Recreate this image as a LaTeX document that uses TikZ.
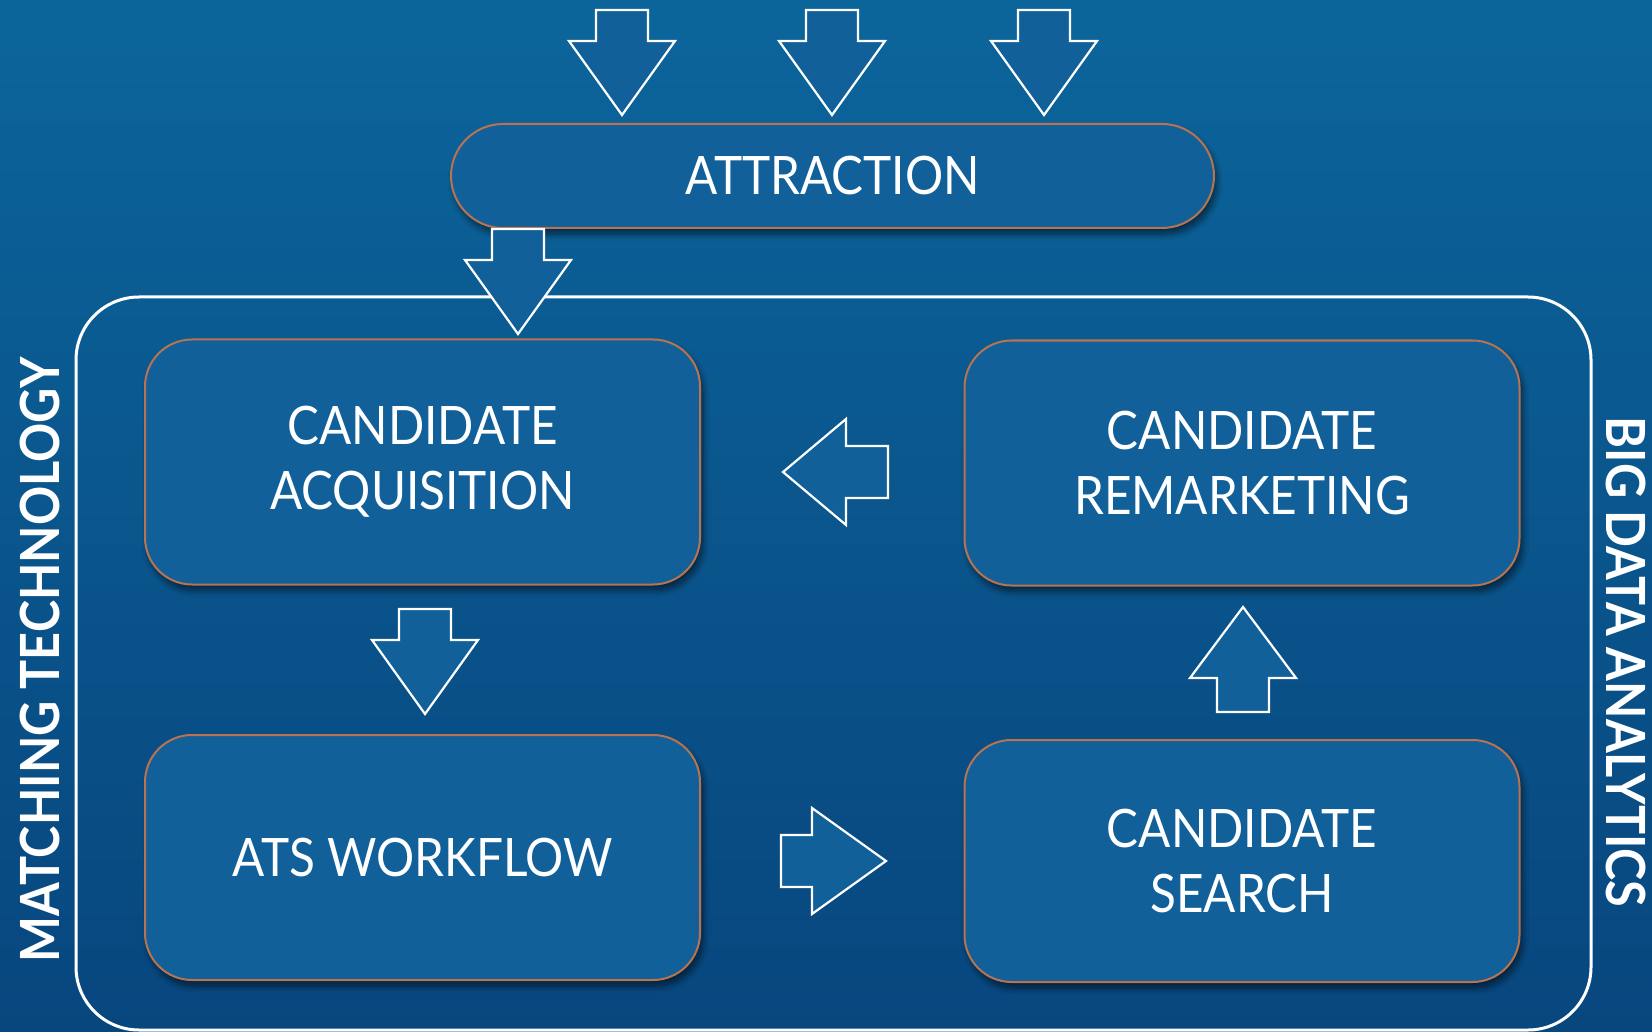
\documentclass[tikz,border=0pt]{standalone}
\usepackage{fontspec}
\setmainfont[FakeStretch=0.9]{Lato}
\usetikzlibrary{shadows,shadows.blur,calc}

\definecolor{bgtop}{HTML}{0B659B}
\definecolor{bgmid}{HTML}{0A4F81}
\definecolor{bgbot}{HTML}{08467E}
\definecolor{boxfill}{HTML}{11609A}
\definecolor{boxedge}{HTML}{B87350}

\tikzset{
  stage/.style={draw=boxedge, line width=2pt, fill=boxfill,
    rounded corners=47pt, minimum width=555pt, minimum height=245pt,
    inner sep=0pt, text=white, align=center,
    font=\fontsize{53}{65}\selectfont,
    blur shadow={shadow xshift=3pt, shadow yshift=-6pt,
      shadow blur radius=6pt, shadow blur steps=10, shadow opacity=55}},
  sidelabel/.style={text=white, font=\fontsize{54}{60}\selectfont\bfseries, inner sep=0pt},
  blockarrow/.style={draw=white, line width=2.2pt, fill=boxfill, line join=miter},
  barrow head/.store in=\barrowhead, barrow head=74,
  barrow/.pic={
    \path[blockarrow] (0,-26) -- (105-\barrowhead,-26) -- (105-\barrowhead,-53)
      -- (105,0) -- (105-\barrowhead,53) -- (105-\barrowhead,26) -- (0,26) -- cycle;
  }
}

\begin{document}
\begin{tikzpicture}[x=1pt,y=-1pt]
  % backdrop
  \shade[top color=bgtop, middle color=bgmid, bottom color=bgbot] (0,0) rectangle (1652,1032);
  \useasboundingbox (0,0) rectangle (1652,1032);

  % outer frame
  \node[draw=white, line width=3pt, rounded corners=63pt,
        minimum width=1515pt, minimum height=733pt] (frame) at (833.5,663.5) {};

  % side labels
  \node[sidelabel, rotate=90] (mt) at (40,660) {MATCHING TECHNOLOGY};
  \node[sidelabel, rotate=-90] (bda) at (1626,662) {BIG DATA ANALYTICS};

  % attraction bar
  \node[stage, minimum width=763pt, minimum height=104pt, rounded corners=52pt]
    (attr) at (832.5,176) {ATTRACTION};

  % stages
  \node[stage] (acq)  at (422.5,462) {CANDIDATE\\ACQUISITION};
  \node[stage] (rem)  at (1242,463)  {CANDIDATE\\REMARKETING};
  \node[stage] (ats)  at (422.5,857.5) {ATS WORKFLOW};
  \node[stage, minimum height=242pt] (srch) at (1242,861) {CANDIDATE\\SEARCH};

  % incoming arrows
  \coordinate (in1) at ($(attr.north)+(-210.5,-113)$);
  \coordinate (in2) at ($(attr.north)+(-0.5,-113)$);
  \coordinate (in3) at ($(attr.north)+(211.5,-113)$);
  \pic[rotate=-90] at (in1) {barrow};
  \pic[rotate=-90] at (in2) {barrow};
  \pic[rotate=-90] at (in3) {barrow};

  % flow arrows
  \pic[rotate=-90] at ($(attr.south west)+(68,0)$) {barrow};
  \pic[rotate=-90] at ($(acq.south)+(2.5,23.5)$) {barrow};
  \pic at ($(ats.east)+(80,3.5)$) {barrow};
  \pic[rotate=90, barrow head=71] at ($(srch.north)+(1,-27)$) {barrow};
  \pic[rotate=180, barrow head=63] at ($(acq.east)+(187,10)$) {barrow};
\end{tikzpicture}
\end{document}
